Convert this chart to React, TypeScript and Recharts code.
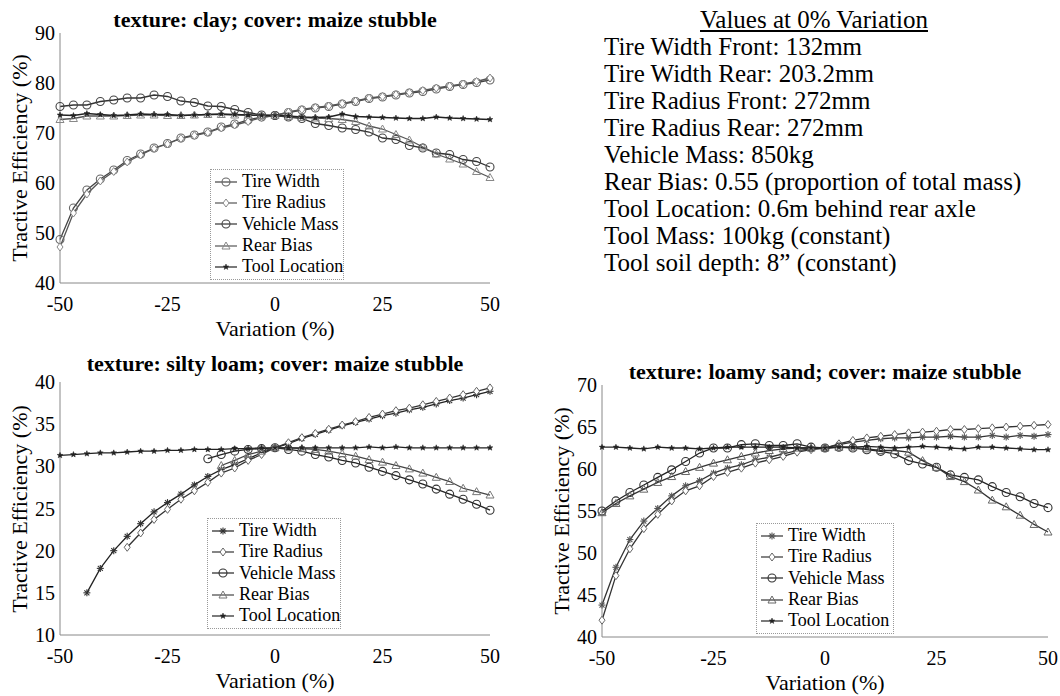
import React from 'react'
import { LineChart, Line, XAxis, YAxis } from 'recharts'

const variation = [
  -50, -46.875, -43.75, -40.625, -37.5, -34.375, -31.25, -28.125, -25, -21.875, -18.75,
  -15.625, -12.5, -9.375, -6.25, -3.125, 0, 3.125, 6.25, 9.375, 12.5, 15.625, 18.75,
  21.875, 25, 28.125, 31.25, 34.375, 37.5, 40.625, 43.75, 46.875, 50,
]
const xTicks = [-50, -25, 0, 25, 50]

// clay
const clayTireWidth = [48.7, 55.0, 58.6, 60.8, 62.6, 64.5, 65.8, 67.0, 67.9, 69.0, 69.6, 70.2, 71.2, 71.8, 72.6, 73.2, 73.5, 74.1, 74.6, 75.0, 75.3, 75.8, 76.3, 76.9, 77.2, 77.6, 78.0, 78.3, 78.8, 79.3, 79.7, 80.1, 80.6]
const clayTireRadius = [47.2, 54.0, 57.8, 60.4, 62.3, 64.2, 65.6, 66.9, 67.8, 68.9, 69.5, 70.1, 71.0, 71.6, 72.3, 73.1, 73.5, 74.2, 74.7, 75.1, 75.4, 75.9, 76.4, 77.0, 77.3, 77.7, 78.1, 78.5, 79.0, 79.4, 79.8, 80.3, 81.0]
const clayVehicleMass = [75.3, 75.6, 75.6, 76.3, 76.6, 77.0, 77.0, 77.6, 77.3, 76.4, 76.1, 75.4, 75.3, 74.7, 74.1, 73.6, 73.5, 73.2, 72.9, 71.9, 71.5, 71.0, 70.7, 70.2, 69.0, 68.7, 67.5, 67.0, 66.0, 65.7, 64.7, 64.3, 63.2]
const clayRearBias = [72.7, 72.9, 73.4, 73.4, 73.4, 73.5, 73.6, 73.6, 73.5, 73.5, 73.6, 73.7, 73.7, 73.6, 73.6, 73.5, 73.5, 73.3, 73.1, 73.0, 72.9, 72.7, 72.3, 71.4, 70.8, 69.7, 68.6, 67.2, 65.8, 64.8, 63.8, 62.3, 61.1]
const clayToolLocation = [73.6, 73.5, 73.9, 73.7, 73.5, 73.6, 73.8, 73.7, 73.7, 73.5, 73.6, 73.7, 73.8, 73.7, 73.6, 73.5, 73.5, 73.4, 73.2, 73.1, 73.2, 73.8, 73.3, 73.2, 73.1, 73.0, 72.9, 72.9, 73.2, 73.0, 72.9, 72.8, 72.7]

// silty loam
const siltyTireWidth = [null, null, 15.0, 17.9, 20.0, 21.7, 23.2, 24.6, 25.7, 26.7, 27.8, 28.8, 29.6, 30.2, 30.9, 31.6, 32.2, 32.7, 33.3, 33.8, 34.3, 34.8, 35.2, 35.6, 36.0, 36.3, 36.7, 37.0, 37.4, 37.8, 38.1, 38.5, 38.9]
const siltyTireRadius = [null, null, null, null, null, 20.4, 22.1, 23.7, 24.9, 26.1, 27.1, 28.1, 29.2, 29.8, 30.7, 31.4, 32.2, 32.8, 33.4, 33.9, 34.4, 34.9, 35.3, 35.8, 36.2, 36.6, 36.9, 37.3, 37.7, 38.1, 38.5, 38.9, 39.3]
const siltyVehicleMass = [null, null, null, null, null, null, null, null, null, null, null, 30.9, 31.4, 31.8, 32.0, 32.1, 32.2, 32.0, 31.8, 31.4, 31.1, 30.7, 30.4, 29.9, 29.4, 28.9, 28.4, 27.9, 27.3, 26.7, 26.1, 25.5, 24.8]
const siltyRearBias = [null, null, null, null, null, null, null, null, null, null, null, null, 30.1, 30.7, 31.4, 31.8, 32.2, 32.2, 32.1, 32.0, 31.8, 31.5, 31.2, 30.8, 30.5, 30.1, 29.7, 29.2, 28.7, 28.2, 27.4, 27.0, 26.6]
const siltyToolLocation = [31.3, 31.4, 31.5, 31.6, 31.6, 31.7, 31.8, 31.8, 31.9, 31.9, 32.0, 32.0, 32.0, 32.1, 32.1, 32.2, 32.2, 32.2, 32.2, 32.2, 32.2, 32.2, 32.2, 32.3, 32.2, 32.3, 32.2, 32.2, 32.2, 32.2, 32.2, 32.2, 32.2]

// loamy sand
const loamyTireWidth = [43.8, 48.3, 51.6, 53.8, 55.3, 56.8, 58.0, 58.6, 59.5, 60.1, 60.5, 61.1, 61.4, 61.8, 62.2, 62.4, 62.5, 62.9, 63.2, 63.4, 63.6, 63.7, 63.7, 63.8, 63.8, 63.9, 63.8, 63.8, 64.0, 63.8, 64.0, 63.9, 64.1]
const loamyTireRadius = [42.0, 47.3, 50.5, 52.9, 54.6, 56.2, 57.4, 58.0, 59.1, 59.6, 60.1, 60.7, 61.1, 61.5, 62.0, 62.3, 62.5, 63.0, 63.4, 63.7, 63.9, 64.1, 64.3, 64.4, 64.5, 64.7, 64.7, 64.8, 64.9, 65.0, 65.1, 65.2, 65.3]
const loamyVehicleMass = [55.0, 56.2, 57.2, 58.1, 59.0, 59.9, 60.9, 61.9, 62.5, 62.5, 62.9, 63.0, 62.8, 62.8, 63.0, 62.6, 62.5, 62.6, 62.5, 62.3, 62.1, 61.8, 61.0, 60.6, 60.2, 59.3, 59.0, 58.7, 57.9, 57.2, 56.7, 55.9, 55.4]
const loamyRearBias = [54.8, 55.9, 56.8, 57.6, 58.4, 59.1, 59.7, 60.2, 60.7, 61.1, 61.5, 61.9, 62.2, 62.4, 62.5, 62.5, 62.5, 62.6, 62.6, 62.4, 62.2, 62.2, 62.0, 61.0, 60.2, 59.1, 58.5, 57.5, 56.3, 55.5, 54.5, 53.4, 52.5]
const loamyToolLocation = [62.6, 62.6, 62.5, 62.4, 62.6, 62.5, 62.5, 62.4, 62.5, 62.6, 62.6, 62.6, 62.6, 62.6, 62.5, 62.5, 62.5, 62.6, 62.6, 62.7, 62.6, 62.5, 62.6, 62.7, 62.6, 62.5, 62.4, 62.6, 62.6, 62.5, 62.4, 62.3, 62.3]

const baseValues = [
  'Tire Width Front: 132mm',
  'Tire Width Rear: 203.2mm',
  'Tire Radius Front: 272mm',
  'Tire Radius Rear: 272mm',
  'Vehicle Mass: 850kg',
  'Rear Bias: 0.55 (proportion of total mass)',
  'Tool Location: 0.6m behind rear axle',
  'Tool Mass: 100kg (constant)',
  'Tool soil depth: 8\u201d (constant)',
]

const FONT = '"Liberation Serif", "Times New Roman", serif'

type Shape = 'circle' | 'diamond' | 'triangle' | 'star' | 'asterisk'
type Series = { key: string; name: string; values: (number | null)[]; line: string; color: string; shape: Shape }

function Marker({ cx, cy, shape, color }: { cx: number; cy: number; shape: Shape; color: string }) {
  if (shape === 'circle') return <circle cx={cx} cy={cy} r={4} fill="none" stroke={color} strokeWidth={1.1} />
  if (shape === 'diamond')
    return <path d={`M${cx},${cy - 4} L${cx + 3},${cy} L${cx},${cy + 4} L${cx - 3},${cy} Z`} fill="#fff" stroke={color} strokeWidth={1} />
  if (shape === 'triangle')
    return <path d={`M${cx},${cy - 4} L${cx + 4},${cy + 3} L${cx - 4},${cy + 3} Z`} fill="none" stroke={color} strokeWidth={1} />
  if (shape === 'asterisk')
    return (
      <g stroke={color} strokeWidth={1.1}>
        <line x1={cx - 3.5} y1={cy} x2={cx + 3.5} y2={cy} />
        <line x1={cx} y1={cy - 3.5} x2={cx} y2={cy + 3.5} />
        <line x1={cx - 2.5} y1={cy - 2.5} x2={cx + 2.5} y2={cy + 2.5} />
        <line x1={cx - 2.5} y1={cy + 2.5} x2={cx + 2.5} y2={cy - 2.5} />
      </g>
    )
  const pts: string[] = []
  for (let i = 0; i < 10; i++) {
    const r = i % 2 === 0 ? 3 : 1.3
    const a = (Math.PI / 5) * i - Math.PI / 2
    pts.push(`${cx + r * Math.cos(a)},${cy + r * Math.sin(a)}`)
  }
  return <polygon points={pts.join(' ')} fill={color} stroke={color} strokeWidth={0.5} />
}

function Legend({ series, left, top, width }: { series: Series[]; left: number; top: number; width: number }) {
  return (
    <div
      style={{
        position: 'absolute', left, top, width, border: '1px dotted #999', background: '#fff',
        padding: '1px 0 2px 0', fontFamily: FONT, fontSize: 18, boxSizing: 'border-box',
      }}
    >
      {series.map((s) => (
        <div key={s.key} style={{ display: 'flex', alignItems: 'center', height: 21.3 }}>
          <svg width={30} height={12} style={{ flex: 'none' }}>
            <line x1={4} y1={6} x2={26} y2={6} stroke={s.line} strokeWidth={1.2} />
            <Marker cx={15} cy={6} shape={s.shape} color={s.color} />
          </svg>
          <span style={{ whiteSpace: 'nowrap', marginLeft: 1 }}>{s.name}</span>
        </div>
      ))}
    </div>
  )
}

type PanelProps = {
  title: string
  series: Series[]
  yDomain: [number, number]
  yTicks: number[]
  left: number
  top: number
  plot: { l: number; t: number; r: number; b: number }
  titleY: number
  yLabelX: number
  legend: { left: number; top: number; width: number }
}

function Panel({ title, series, yDomain, yTicks, left, top, plot, titleY, yLabelX, legend }: PanelProps) {
  const W = 540
  const H = 330
  const rows = variation.map((x, i) => {
    const row: Record<string, number | null> = { x }
    series.forEach((s) => (row[s.key] = s.values[i]))
    return row
  })
  const cxPlot = left + (plot.l + plot.r) / 2
  const tickStyle = { fontFamily: FONT, fontSize: 20, fill: '#000' }
  return (
    <>
      <div style={{ position: 'absolute', left, top, width: W, height: H }}>
        <LineChart
          width={W}
          height={H}
          data={rows}
          margin={{ top: plot.t, right: W - plot.r, left: plot.l - 50, bottom: H - plot.b - 30 }}
        >
          <XAxis
            dataKey="x"
            type="number"
            domain={[-50, 50]}
            ticks={xTicks}
            height={30}
            tick={tickStyle}
            tickLine={false}
            tickMargin={8}
            axisLine={{ stroke: '#888' }}
          />
          <YAxis
            domain={yDomain}
            ticks={yTicks}
            width={50}
            tick={tickStyle}
            tickLine={false}
            tickSize={3}
            tickMargin={2}
            axisLine={{ stroke: '#888' }}
            allowDataOverflow
          />
          {series.map((s) => (
            <Line
              key={s.key}
              dataKey={s.key}
              name={s.name}
              type="linear"
              stroke={s.line}
              strokeWidth={1.3}
              isAnimationActive={false}
              dot={(p: any) =>
                p.cx == null || p.cy == null || p.value == null ? (
                  <g key={`${s.key}-${p.index}`} />
                ) : (
                  <Marker key={`${s.key}-${p.index}`} cx={p.cx} cy={p.cy} shape={s.shape} color={s.color} />
                )
              }
            />
          ))}
        </LineChart>
      </div>
      <div style={{ position: 'absolute', left: cxPlot, top: top + titleY, transform: 'translate(-50%, -50%)', fontFamily: FONT, fontSize: 22, fontWeight: 'bold', whiteSpace: 'nowrap' }}>
        {title}
      </div>
      <div style={{ position: 'absolute', left: cxPlot, top: top + plot.b + 46, transform: 'translate(-50%, -50%)', fontFamily: FONT, fontSize: 22, whiteSpace: 'nowrap' }}>
        Variation (%)
      </div>
      <div style={{ position: 'absolute', left: left + yLabelX, top: top + (plot.t + plot.b) / 2, transform: 'translate(-50%, -50%) rotate(-90deg)', fontFamily: FONT, fontSize: 22, whiteSpace: 'nowrap' }}>
        Tractive Efficiency (%)
      </div>
      <Legend series={series} left={legend.left} top={legend.top} width={legend.width} />
    </>
  )
}

const claySeries: Series[] = [
  { key: 'tw', name: 'Tire Width', values: clayTireWidth, line: '#444', color: '#666', shape: 'circle' },
  { key: 'tr', name: 'Tire Radius', values: clayTireRadius, line: '#555', color: '#888', shape: 'diamond' },
  { key: 'vm', name: 'Vehicle Mass', values: clayVehicleMass, line: '#333', color: '#444', shape: 'circle' },
  { key: 'rb', name: 'Rear Bias', values: clayRearBias, line: '#555', color: '#888', shape: 'triangle' },
  { key: 'tl', name: 'Tool Location', values: clayToolLocation, line: '#222', color: '#222', shape: 'star' },
]
const siltySeries: Series[] = [
  { key: 'tw', name: 'Tire Width', values: siltyTireWidth, line: '#222', color: '#333', shape: 'asterisk' },
  { key: 'tr', name: 'Tire Radius', values: siltyTireRadius, line: '#333', color: '#666', shape: 'diamond' },
  { key: 'vm', name: 'Vehicle Mass', values: siltyVehicleMass, line: '#222', color: '#333', shape: 'circle' },
  { key: 'rb', name: 'Rear Bias', values: siltyRearBias, line: '#444', color: '#777', shape: 'triangle' },
  { key: 'tl', name: 'Tool Location', values: siltyToolLocation, line: '#222', color: '#222', shape: 'star' },
]
const loamySeries: Series[] = [
  { key: 'tw', name: 'Tire Width', values: loamyTireWidth, line: '#333', color: '#555', shape: 'asterisk' },
  { key: 'tr', name: 'Tire Radius', values: loamyTireRadius, line: '#333', color: '#666', shape: 'diamond' },
  { key: 'vm', name: 'Vehicle Mass', values: loamyVehicleMass, line: '#222', color: '#333', shape: 'circle' },
  { key: 'rb', name: 'Rear Bias', values: loamyRearBias, line: '#333', color: '#666', shape: 'triangle' },
  { key: 'tl', name: 'Tool Location', values: loamyToolLocation, line: '#222', color: '#222', shape: 'star' },
]

export default function App() {
  return (
    <div style={{ position: 'absolute', left: 0, top: 0, width: 1060, height: 696, background: '#fff', overflow: 'hidden' }}>
      <Panel
        title="texture: clay; cover: maize stubble"
        series={claySeries}
        yDomain={[40, 90]}
        yTicks={[40, 50, 60, 70, 80, 90]}
        left={0}
        top={0}
        plot={{ l: 60, t: 33, r: 490, b: 283 }}
        titleY={20}
        yLabelX={20}
        legend={{ left: 210, top: 169, width: 134 }}
      />
      <Panel
        title="texture: silty loam; cover: maize stubble"
        series={siltySeries}
        yDomain={[10, 40]}
        yTicks={[10, 15, 20, 25, 30, 35, 40]}
        left={0}
        top={350}
        plot={{ l: 60, t: 32, r: 490, b: 285 }}
        titleY={14}
        yLabelX={20}
        legend={{ left: 207, top: 518, width: 134 }}
      />
      <Panel
        title="texture: loamy sand; cover: maize stubble"
        series={loamySeries}
        yDomain={[40, 70]}
        yTicks={[40, 45, 50, 55, 60, 65, 70]}
        left={540}
        top={350}
        plot={{ l: 62, t: 35, r: 508, b: 287 }}
        titleY={22}
        yLabelX={22}
        legend={{ left: 756, top: 523, width: 138 }}
      />
      <div style={{ position: 'absolute', left: 604, top: 6, fontFamily: FONT, fontSize: 25, lineHeight: '27px' }}>
        <div style={{ width: 420, textAlign: 'center', textDecoration: 'underline' }}>Values at 0% Variation</div>
        {baseValues.map((t) => (
          <div key={t} style={{ whiteSpace: 'nowrap' }}>{t}</div>
        ))}
      </div>
    </div>
  )
}
